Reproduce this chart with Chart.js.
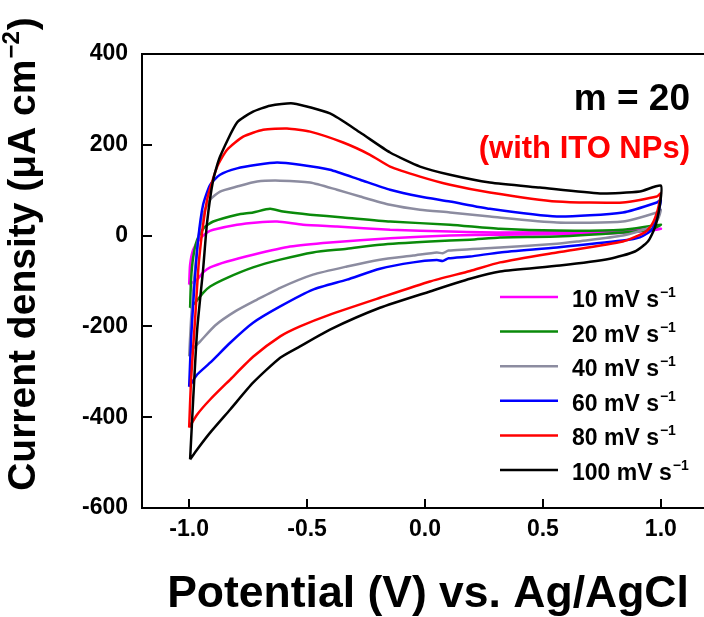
<!DOCTYPE html>
<html>
<head>
<meta charset="utf-8">
<script src="https://cdn.jsdelivr.net/npm/chart.js@4.4.1/dist/chart.umd.min.js"></script>
<style>
  body { margin: 0; overflow: hidden; background: #fff; }
  #wrap { width: 712px; height: 617px; }
</style>
</head>
<body>
<div id="wrap"><canvas id="cvChart" width="712" height="617"></canvas></div>
<script>
// scan rates (legend) and colours
const scanRates = ["10", "20", "40", "60", "80", "100"];
const lineColors = ["#ff00ff", "#0a8a0a", "#8c8ca0", "#0000ff", "#ff0000", "#000000"];

// axis ticks
const xTicks = [-1.0, -0.5, 0.0, 0.5, 1.0];
const yTicks = [-600, -400, -200, 0, 200, 400];

// CV loops: forward scan -1.0 -> 1.0, then reverse 1.0 -> -1.0
const potential10 = [-1.0, -0.996, -0.983, -0.958, -0.924, -0.898, -0.797, -0.712, -0.627, -0.517, -0.373, -0.148, 0.106, 0.318, 0.742, 1.0,
  0.911, 0.742, 0.318, 0.106, -0.148, -0.403, -0.572, -0.729, -0.839, -0.911, -0.941, -0.966, -1.0];
const current10 = [-108, -64, -31, -9, 7, 13, 24, 29, 31, 24, 20, 13, 9, 7, 9, 15,
  9, 4, 2, 0, -6, -15, -24, -42, -57, -70, -81, -97, -108];

const potential20 = [-0.996, -0.992, -0.983, -0.966, -0.936, -0.898, -0.797, -0.729, -0.657, -0.602, -0.487, -0.347, -0.148, 0.106, 0.318, 0.559, 0.839, 1.0,
  0.953, 0.839, 0.559, 0.318, 0.191, 0.021, -0.191, -0.331, -0.475, -0.614, -0.729, -0.839, -0.911, -0.941, -0.975, -0.996];
const current20 = [-159, -97, -48, -9, 18, 31, 46, 51, 59, 53, 46, 40, 31, 24, 15, 11, 13, 24,
  13, 7, -2, -4, -9, -13, -20, -29, -37, -53, -70, -93, -112, -126, -148, -159];

const potential40 = [-1.0, -0.992, -0.979, -0.962, -0.941, -0.911, -0.869, -0.797, -0.712, -0.614, -0.487, -0.373, -0.275, -0.148, -0.021, 0.106, 0.275, 0.559, 0.839, 0.983, 1.0,
  0.987, 0.953, 0.839, 0.644, 0.559, 0.318, 0.10, 0.075, 0.05, -0.05, -0.191, -0.331, -0.475, -0.614, -0.712, -0.805, -0.890, -0.953, -0.987, -1.0];
const current40 = [-266, -185, -97, -9, 46, 79, 97, 108, 119, 121, 117, 101, 86, 68, 57, 51, 42, 29, 31, 51, 57,
  35, 18, 0, -13, -18, -26, -33, -39, -37, -44, -53, -68, -86, -115, -141, -167, -198, -233, -251, -266];

const potential60 = [-1.0, -0.992, -0.979, -0.962, -0.941, -0.911, -0.869, -0.797, -0.712, -0.627, -0.530, -0.403, -0.275, -0.148, -0.021, 0.106, 0.275, 0.559, 0.839, 0.983, 1.0,
  0.987, 0.962, 0.911, 0.839, 0.559, 0.318, 0.191, 0.10, 0.075, 0.05, -0.05, -0.191, -0.331, -0.475, -0.614, -0.729, -0.826, -0.911, -0.966, -1.0];
const current60 = [-333, -229, -119, -9, 68, 112, 134, 148, 156, 161, 156, 145, 123, 101, 86, 75, 59, 42, 51, 73, 79,
  46, 13, -4, -11, -26, -37, -46, -50, -56, -54, -59, -73, -97, -119, -156, -192, -236, -280, -306, -333];

const potential80 = [-1.0, -0.992, -0.975, -0.958, -0.924, -0.881, -0.839, -0.771, -0.686, -0.585, -0.487, -0.347, -0.233, -0.148, -0.021, 0.106, 0.275, 0.559, 0.839, 0.983, 1.0,
  0.987, 0.962, 0.932, 0.839, 0.559, 0.318, 0.191, 0.021, -0.191, -0.403, -0.530, -0.614, -0.729, -0.826, -0.911, -0.966, -1.0];
const current80 = [-423, -317, -185, -53, 79, 152, 189, 218, 233, 236, 229, 205, 178, 152, 130, 112, 95, 75, 73, 86, 93,
  57, 24, 7, -13, -37, -59, -78, -101, -137, -174, -200, -222, -267, -317, -361, -394, -423];

const potential100 = [-0.996, -0.983, -0.966, -0.941, -0.924, -0.898, -0.869, -0.797, -0.729, -0.657, -0.559, -0.403, -0.275, -0.148, -0.021, 0.106, 0.275, 0.487, 0.742, 0.911, 1.0,
  0.996, 0.975, 0.945, 0.890, 0.784, 0.572, 0.318, 0.191, 0.021, -0.191, -0.403, -0.530, -0.614, -0.729, -0.826, -0.911, -0.966, -0.996];
const current100 = [-493, -361, -207, -75, 29, 123, 174, 249, 273, 286, 291, 269, 227, 183, 152, 134, 117, 106, 93, 97, 110,
  68, 18, -13, -35, -51, -66, -79, -95, -123, -159, -207, -244, -269, -324, -383, -434, -471, -493];

const potentials = [potential10, potential20, potential40, potential60, potential80, potential100];
const currents = [current10, current20, current40, current60, current80, current100];

const FONT = '"Liberation Sans", Arial, Helvetica, sans-serif';

// draw a line of text made of parts, some of them raised (superscript)
function drawParts(ctx, parts, x, y, align) {
  let total = 0;
  parts.forEach(p => {
    ctx.font = "bold " + p.size + "px " + FONT;
    p.w = ctx.measureText(p.t).width;
    total += p.w + (p.gap || 0);
  });
  let cx = x;
  if (align === "center") cx = x - total / 2;
  if (align === "right") cx = x - total;
  ctx.textAlign = "left";
  ctx.textBaseline = "alphabetic";
  parts.forEach(p => {
    ctx.font = "bold " + p.size + "px " + FONT;
    ctx.fillStyle = p.color || "#000";
    cx += p.gap || 0;
    ctx.fillText(p.t, cx, y - (p.rise || 0));
    cx += p.w;
  });
}

const decorPlugin = {
  id: "decor",
  afterDraw(chart) {
    const ctx = chart.ctx;
    const area = chart.chartArea;
    const xs = chart.scales.x;
    const ys = chart.scales.y;
    ctx.save();

    // frame
    ctx.strokeStyle = "#000";
    ctx.lineWidth = 2;
    ctx.strokeRect(area.left, area.top, area.right - area.left, area.bottom - area.top);

    // inward tick marks
    ctx.beginPath();
    xTicks.forEach(v => {
      const px = Math.round(xs.getPixelForValue(v));
      ctx.moveTo(px, area.bottom);
      ctx.lineTo(px, area.bottom - 9);
    });
    yTicks.forEach(v => {
      const py = Math.round(ys.getPixelForValue(v));
      ctx.moveTo(area.left, py);
      ctx.lineTo(area.left + 10, py);
    });
    ctx.stroke();

    // axis titles
    drawParts(ctx, [{ t: "Potential (V) vs. Ag/AgCl", size: 44.5 }], 428, 607, "center");
    ctx.save();
    ctx.translate(35, 254);
    ctx.rotate(-Math.PI / 2);
    drawParts(ctx, [
      { t: "Current density (\u03bcA cm", size: 39 },
      { t: "\u22122", size: 24, rise: 16, gap: 1 },
      { t: ")", size: 39, gap: 1 }
    ], 0, 0, "center");
    ctx.restore();

    // annotations
    drawParts(ctx, [{ t: "m = 20", size: 37 }], 690, 110, "right");
    drawParts(ctx, [{ t: "(with ITO NPs)", size: 31, color: "#ff0000" }], 690, 158, "right");

    // legend
    scanRates.forEach((r, i) => {
      const y = 297 + i * 34.6;
      ctx.strokeStyle = lineColors[i];
      ctx.lineWidth = 2.5;
      ctx.beginPath();
      ctx.moveTo(500, y);
      ctx.lineTo(558, y);
      ctx.stroke();
      drawParts(ctx, [
        { t: r + " mV s", size: 23 },
        { t: "\u22121", size: 14, rise: 10, gap: 1 }
      ], 572, y + 10, "left");
    });

    ctx.restore();
  }
};

const datasets = scanRates.map((r, i) => ({
  label: r + " mV s-1",
  data: potentials[i].map((v, k) => ({ x: v, y: currents[i][k] })),
  borderColor: lineColors[i],
  borderWidth: 2.5,
  pointRadius: 0,
  showLine: true,
  tension: 0.2,
  fill: false,
  order: scanRates.length - i
}));

new Chart(document.getElementById("cvChart"), {
  type: "scatter",
  data: { datasets: datasets },
  options: {
    responsive: false,
    animation: false,
    devicePixelRatio: 1,
    layout: { padding: { left: 0, top: 54, right: 4, bottom: 0 } },
    plugins: {
      legend: { display: false },
      tooltip: { enabled: false }
    },
    scales: {
      x: {
        type: "linear",
        min: -1.2,
        max: 1.2,
        grid: { display: false, drawTicks: false },
        border: { display: false },
        ticks: {
          color: "#000",
          padding: 8,
          font: { family: FONT, size: 23, weight: "bold" },
          callback: v => Number(v).toFixed(1)
        },
        afterBuildTicks: s => { s.ticks = xTicks.map(v => ({ value: v })); },
        afterFit: s => { s.height = 109; }
      },
      y: {
        type: "linear",
        min: -600,
        max: 400,
        grid: { display: false, drawTicks: false },
        border: { display: false },
        ticks: {
          color: "#000",
          padding: 14,
          font: { family: FONT, size: 23, weight: "bold" },
          callback: v => String(v)
        },
        afterBuildTicks: s => { s.ticks = yTicks.map(v => ({ value: v })); },
        afterFit: s => { s.width = 142; }
      }
    }
  },
  plugins: [decorPlugin]
});
</script>
</body>
</html>
